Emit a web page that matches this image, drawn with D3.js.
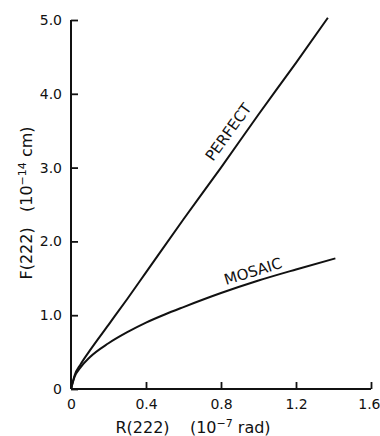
<!DOCTYPE html>
<html>
<head>
<meta charset="utf-8">
<script src="https://cdn.jsdelivr.net/npm/d3@7"></script>
<style>
  body { margin: 0; background: #fff; }
  text { font-family: "DejaVu Sans", sans-serif; fill: #111; white-space: pre; }
</style>
</head>
<body>
<div id="chart"></div>
<script>
// values
var perfectR = [0, 0.02, 0.05, 0.1, 0.2, 0.3, 0.4, 0.6, 0.8, 1.0, 1.2, 1.37];
var perfectF = [0, 0.19, 0.33, 0.52, 0.87, 1.22, 1.58, 2.3, 3.0, 3.72, 4.42, 5.03];
var mosaicR = [0, 0.02, 0.05, 0.1, 0.2, 0.3, 0.4, 0.5, 0.6, 0.8, 1.0, 1.2, 1.41];
var mosaicF = [0, 0.17, 0.29, 0.43, 0.62, 0.77, 0.9, 1.01, 1.11, 1.3, 1.47, 1.62, 1.77];
var xTicks = [0, 0.4, 0.8, 1.2, 1.6];
var xTickLabels = ["0", "0.4", "0.8", "1.2", "1.6"];
var yTicks = [0, 1, 2, 3, 4, 5];
var yTickLabels = ["0", "1.0", "2.0", "3.0", "4.0", "5.0"];

var width = 380, height = 436;

var svg = d3.select('#chart')
    .append('svg')
    .attr('width', width)
    .attr('height', height);

var x = d3.scaleLinear().domain([0, 1.6]).range([71, 371]);
var y = d3.scaleLinear().domain([0, 5]).range([389, 20]);

// axes
var xAxis = d3.axisBottom(x)
    .tickValues(xTicks)
    .tickSize(-7)
    .tickPadding(10)
    .tickFormat(function (d, i) { return xTickLabels[i]; });

var yAxis = d3.axisLeft(y)
    .tickValues(yTicks)
    .tickSize(-7)
    .tickPadding(9)
    .tickFormat(function (d, i) { return yTickLabels[i]; });

var gx = svg.append('g').attr('transform', 'translate(0,' + y(0) + ')').call(xAxis);
var gy = svg.append('g').attr('transform', 'translate(' + x(0) + ',0)').call(yAxis);

[gx, gy].forEach(function (g) {
    g.select('.domain').attr('stroke', '#111').attr('stroke-width', 2);
    g.selectAll('.tick line').attr('stroke', '#111').attr('stroke-width', 1.8);
    g.selectAll('.tick text')
        .attr('font-size', 14)
        .attr('font-family', '"DejaVu Sans", sans-serif')
        .attr('fill', '#111');
});
gx.select('.domain').attr('d', 'M' + x(0) + ',0H' + x(1.6));
gy.select('.domain').attr('d', 'M0,' + y(0) + 'V' + y(5));
// last label sits against the right edge, as in the figure
gx.selectAll('.tick text').filter(function (d) { return d === 1.6; })
    .attr('text-anchor', 'end').attr('x', 9);

// curves
var line = d3.line()
    .x(function (d) { return x(d[0]); })
    .y(function (d) { return y(d[1]); })
    .curve(d3.curveMonotoneX);

var perfect = perfectR.map(function (r, i) { return [r, perfectF[i]]; });
var mosaic = mosaicR.map(function (r, i) { return [r, mosaicF[i]]; });

svg.append('path').datum(perfect)
    .attr('d', line).attr('fill', 'none')
    .attr('stroke', '#111').attr('stroke-width', 2);

svg.append('path').datum(mosaic)
    .attr('d', line).attr('fill', 'none')
    .attr('stroke', '#111').attr('stroke-width', 2);

// curve labels
svg.append('text')
    .attr('transform', 'translate(213,162) rotate(-54)')
    .attr('font-size', 15)
    .text('PERFECT');

svg.append('text')
    .attr('transform', 'translate(226,285) rotate(-17)')
    .attr('font-size', 15)
    .text('MOSAIC');

// axis titles
var xt = svg.append('text')
    .attr('x', 193).attr('y', 433)
    .attr('text-anchor', 'middle')
    .attr('font-size', 16);
xt.append('tspan').text('R(222)    (10');
xt.append('tspan').attr('dy', -6).attr('font-size', 11).text('\u22127');
xt.append('tspan').attr('dy', 6).text(' rad)');

var yt = svg.append('text')
    .attr('transform', 'translate(32,203) rotate(-90)')
    .attr('text-anchor', 'middle')
    .attr('font-size', 16);
yt.append('tspan').text('F(222)   (10');
yt.append('tspan').attr('dy', -6).attr('font-size', 11).text('\u221214');
yt.append('tspan').attr('dy', 6).text(' cm)');
</script>
</body>
</html>
